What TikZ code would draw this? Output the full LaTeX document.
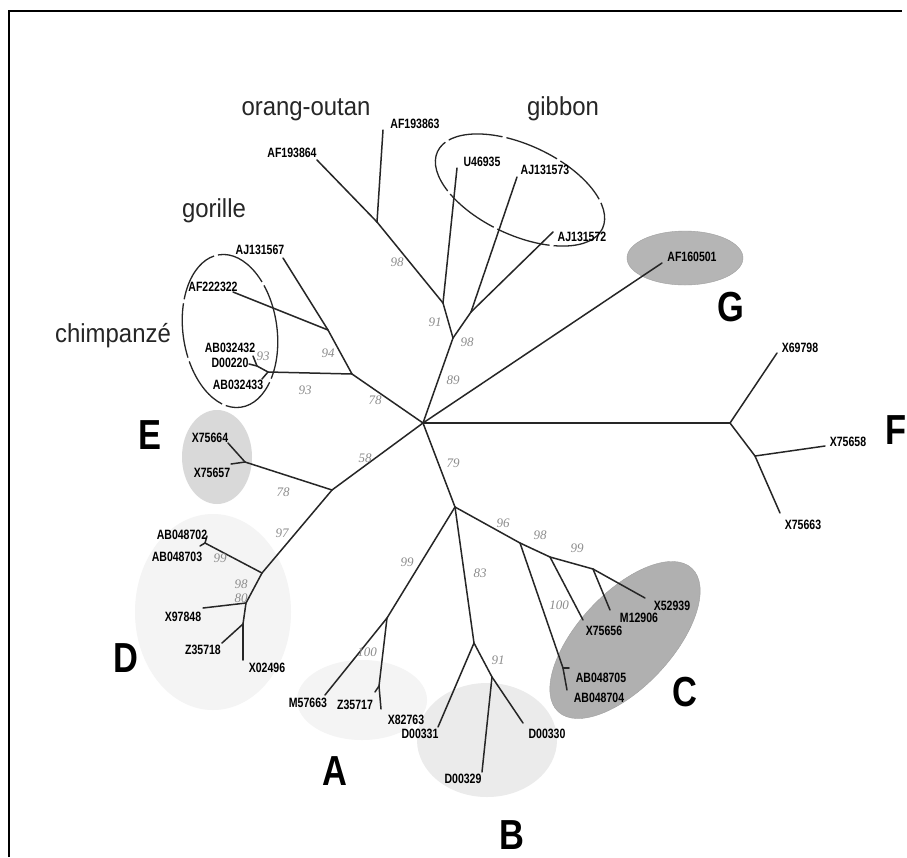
\documentclass[tikz,border=0pt]{standalone}
\usepackage{fontspec}
\setmainfont{Liberation Sans}
\newfontfamily\numf{Liberation Serif}
\usepackage{graphicx}
\newcommand{\taxl}[1]{\scalebox{0.78}[1]{\fontsize{13.5}{13.5}\selectfont\bfseries #1}}
\newcommand{\grpl}[1]{\scalebox{0.82}[1]{\fontsize{42}{42}\selectfont\bfseries #1}}
\newcommand{\spname}[1]{\scalebox{0.92}[1]{#1}}
\tikzset{
  br/.style={line width=1.5pt, black!85, line cap=round},
  tax/.style={inner sep=0pt, text=black},
  bsv/.style={inner sep=0pt, text=black!45, font=\numf\itshape\fontsize{13}{13}\selectfont},
  big/.style={inner sep=0pt, text=black!85, font=\fontsize{26}{26}\selectfont, anchor=base},
  grp/.style={inner sep=0pt, text=black},
  dashell/.style={draw=black!85, line width=1.3pt, dash pattern=on 55pt off 4pt},
}
\begin{document}
\begin{tikzpicture}[x=1pt,y=-1pt]
\useasboundingbox (0,0) rectangle (907,857);
\fill[white] (0,0) rectangle (907,857);
% frame
\coordinate (fbl) at (9,857);
\coordinate (ftl) at (9,11);
\coordinate (ftr) at (902,11);
\draw[line width=2.5pt] (fbl) -- (ftl) -- (ftr);

% shaded groups
\coordinate (cD) at (213,612);
\coordinate (cA) at (362,700);
\coordinate (cB) at (487,740);
\coordinate (cE) at (217,457);
\coordinate (cC) at (625,640);
\coordinate (cG) at (685,258);
\coordinate (cGib) at (520,190);
\coordinate (cChi) at (230,331);
\fill[gray!9] (cD) ellipse [x radius=78, y radius=98];
\fill[gray!9] (cA) ellipse [x radius=65, y radius=40];
\fill[gray!16] (cB) ellipse [x radius=70, y radius=57];
\fill[gray!30] (cE) ellipse [x radius=35, y radius=47];
\filldraw[fill=gray!62, draw=gray!75, rotate around={47:(cC)}] (cC) ellipse [x radius=98, y radius=47];
\filldraw[fill=gray!58, draw=gray!75] (cG) ellipse [x radius=58, y radius=27];
\draw[dashell, rotate around={-25:(cGib)}] (cGib) ellipse [x radius=91, y radius=45];
\draw[dashell, rotate around={8:(cChi)}] (cChi) ellipse [x radius=47, y radius=77];

% internal nodes and tips
\coordinate (R) at (423,423);
\coordinate (nF) at (730,423);
\coordinate (nFs) at (755,456);
\coordinate (tX69798) at (777,353);
\coordinate (tX75658) at (825,446);
\coordinate (tX75663) at (780,513);
\coordinate (tAF160501) at (662,263);
\coordinate (n89) at (453,338);
\coordinate (n91) at (443,303);
\coordinate (n98g) at (471,312);
\coordinate (nOr) at (377,222);
\coordinate (tAF193864) at (317,160);
\coordinate (tAF193863) at (383,130);
\coordinate (tU46935) at (457,168);
\coordinate (tAJ131573) at (517,177);
\coordinate (tAJ131572) at (553,232);
\coordinate (n78) at (352,374);
\coordinate (n94) at (328,330);
\coordinate (tAJ131567) at (283,258);
\coordinate (tAF222322) at (233,292);
\coordinate (nCh) at (268,372);
\coordinate (nCh2) at (257,366);
\coordinate (tAB032432) at (253,356);
\coordinate (tD00220) at (249,364);
\coordinate (tAB032433) at (262,379);
\coordinate (n58) at (332,490);
\coordinate (nE) at (245,462);
\coordinate (tX75664) at (228,443);
\coordinate (tX75657) at (231,464);
\coordinate (nD) at (262,573);
\coordinate (nD1) at (205,543);
\coordinate (tAB048702) at (207,536);
\coordinate (tAB048703) at (200,546);
\coordinate (nD2) at (246,603);
\coordinate (tX97848) at (203,608);
\coordinate (nD3) at (243,624);
\coordinate (tZ35718) at (222,643);
\coordinate (tX02496) at (243,660);
\coordinate (n79) at (455,507);
\coordinate (nA) at (387,618);
\coordinate (tM57663) at (325,695);
\coordinate (nA2) at (379,686);
\coordinate (tZ35717) at (375,692);
\coordinate (tX82763) at (381,709);
\coordinate (nB) at (474,643);
\coordinate (tD00331) at (438,727);
\coordinate (nB2) at (492,677);
\coordinate (tD00330) at (523,723);
\coordinate (tD00329) at (482,772);
\coordinate (nC) at (520,543);
\coordinate (nC98) at (550,557);
\coordinate (nC99) at (593,569);
\coordinate (tX52939) at (645,598);
\coordinate (tM12906) at (610,610);
\coordinate (tX75656) at (583,620);
\coordinate (nC2) at (563,668);
\coordinate (tAB048705) at (569,668);
\coordinate (tAB048704) at (567,690);

% branches
\draw[br] (R) -- (nF);
\draw[br] (nF) -- (tX69798);
\draw[br] (nF) -- (nFs);
\draw[br] (nFs) -- (tX75658);
\draw[br] (nFs) -- (tX75663);
\draw[br] (R) -- (tAF160501);
\draw[br] (R) -- (n89);
\draw[br] (n89) -- (n91);
\draw[br] (n89) -- (n98g);
\draw[br] (n91) -- (nOr);
\draw[br] (nOr) -- (tAF193864);
\draw[br] (nOr) -- (tAF193863);
\draw[br] (n91) -- (tU46935);
\draw[br] (n98g) -- (tAJ131573);
\draw[br] (n98g) -- (tAJ131572);
\draw[br] (R) -- (n78);
\draw[br] (n78) -- (n94);
\draw[br] (n94) -- (tAJ131567);
\draw[br] (n94) -- (tAF222322);
\draw[br] (n78) -- (nCh);
\draw[br] (nCh) -- (nCh2);
\draw[br] (nCh2) -- (tAB032432);
\draw[br] (nCh2) -- (tD00220);
\draw[br] (nCh) -- (tAB032433);
\draw[br] (R) -- (n58);
\draw[br] (n58) -- (nE);
\draw[br] (nE) -- (tX75664);
\draw[br] (nE) -- (tX75657);
\draw[br] (n58) -- (nD);
\draw[br] (nD) -- (nD1);
\draw[br] (nD1) -- (tAB048702);
\draw[br] (nD1) -- (tAB048703);
\draw[br] (nD) -- (nD2);
\draw[br] (nD2) -- (tX97848);
\draw[br] (nD2) -- (nD3);
\draw[br] (nD3) -- (tZ35718);
\draw[br] (nD3) -- (tX02496);
\draw[br] (R) -- (n79);
\draw[br] (n79) -- (nA);
\draw[br] (nA) -- (tM57663);
\draw[br] (nA) -- (nA2);
\draw[br] (nA2) -- (tZ35717);
\draw[br] (nA2) -- (tX82763);
\draw[br] (n79) -- (nB);
\draw[br] (nB) -- (tD00331);
\draw[br] (nB) -- (nB2);
\draw[br] (nB2) -- (tD00330);
\draw[br] (nB2) -- (tD00329);
\draw[br] (n79) -- (nC);
\draw[br] (nC) -- (nC98);
\draw[br] (nC98) -- (nC99);
\draw[br] (nC99) -- (tX52939);
\draw[br] (nC99) -- (tM12906);
\draw[br] (nC98) -- (tX75656);
\draw[br] (nC) -- (nC2);
\draw[br] (nC2) -- (tAB048705);
\draw[br] (nC2) -- (tAB048704);

% taxon labels
\node[tax] (lAF193863) at (415,124) {\taxl{AF193863}};
\node[tax] (lAF193864) at (292,153) {\taxl{AF193864}};
\node[tax] (lU46935) at (482,162) {\taxl{U46935}};
\node[tax] (lAJ131573) at (545,170) {\taxl{AJ131573}};
\node[tax] (lAJ131572) at (582,237) {\taxl{AJ131572}};
\node[tax] (lAF160501) at (692,257) {\taxl{AF160501}};
\node[tax] (lAJ131567) at (260,250) {\taxl{AJ131567}};
\node[tax] (lAF222322) at (213,287) {\taxl{AF222322}};
\node[tax] (lAB032432) at (230,348) {\taxl{AB032432}};
\node[tax] (lD00220) at (230,363) {\taxl{D00220}};
\node[tax] (lAB032433) at (238,385) {\taxl{AB032433}};
\node[tax] (lX75664) at (210,438) {\taxl{X75664}};
\node[tax] (lX75657) at (212,473) {\taxl{X75657}};
\node[tax] (lAB048702) at (182,535) {\taxl{AB048702}};
\node[tax] (lAB048703) at (177,557) {\taxl{AB048703}};
\node[tax] (lX97848) at (183,617) {\taxl{X97848}};
\node[tax] (lZ35718) at (203,650) {\taxl{Z35718}};
\node[tax] (lX02496) at (267,668) {\taxl{X02496}};
\node[tax] (lM57663) at (308,703) {\taxl{M57663}};
\node[tax] (lZ35717) at (355,705) {\taxl{Z35717}};
\node[tax] (lX82763) at (406,720) {\taxl{X82763}};
\node[tax] (lD00331) at (420,734) {\taxl{D00331}};
\node[tax] (lD00330) at (547,734) {\taxl{D00330}};
\node[tax] (lD00329) at (463,779) {\taxl{D00329}};
\node[tax] (lAB048705) at (601,678) {\taxl{AB048705}};
\node[tax] (lAB048704) at (599,698) {\taxl{AB048704}};
\node[tax] (lX75656) at (604,631) {\taxl{X75656}};
\node[tax] (lM12906) at (639,618) {\taxl{M12906}};
\node[tax] (lX52939) at (672,606) {\taxl{X52939}};
\node[tax] (lX69798) at (800,348) {\taxl{X69798}};
\node[tax] (lX75658) at (848,442) {\taxl{X75658}};
\node[tax] (lX75663) at (803,525) {\taxl{X75663}};

% bootstrap values
\node[bsv] (b1) at (397,262) {98};
\node[bsv] (b2) at (435,322) {91};
\node[bsv] (b3) at (467,342) {98};
\node[bsv] (b4) at (453,380) {89};
\node[bsv] (b5) at (328,353) {94};
\node[bsv] (b6) at (305,390) {93};
\node[bsv] (b7) at (263,356) {93};
\node[bsv] (b8) at (375,400) {78};
\node[bsv] (b9) at (365,458) {58};
\node[bsv] (b10) at (283,492) {78};
\node[bsv] (b11) at (282,533) {97};
\node[bsv] (b12) at (220,558) {99};
\node[bsv] (b13) at (241,584) {98};
\node[bsv] (b14) at (241,598) {80};
\node[bsv] (b15) at (453,463) {79};
\node[bsv] (b16) at (407,562) {99};
\node[bsv] (b17) at (367,652) {100};
\node[bsv] (b18) at (480,573) {83};
\node[bsv] (b19) at (498,660) {91};
\node[bsv] (b20) at (503,523) {96};
\node[bsv] (b21) at (540,535) {98};
\node[bsv] (b22) at (577,548) {99};
\node[bsv] (b23) at (559,605) {100};

% group names
\node[big] (orang) at (306,115) {\spname{orang-outan}};
\node[big] (gibbon) at (563,115) {\spname{gibbon}};
\node[big] (gorille) at (214,217) {\spname{gorille}};
\node[big] (chimp) at (113,342) {\spname{chimpanzé}};
\node[grp] (gA) at (335,771) {\grpl{A}};
\node[grp] (gB) at (512,835) {\grpl{B}};
\node[grp] (gC) at (685,692) {\grpl{C}};
\node[grp] (gD) at (126,658) {\grpl{D}};
\node[grp] (gE) at (150,435) {\grpl{E}};
\node[grp] (gF) at (896,430) {\grpl{F}};
\node[grp] (gG) at (731,307) {\grpl{G}};
\end{tikzpicture}
\end{document}
